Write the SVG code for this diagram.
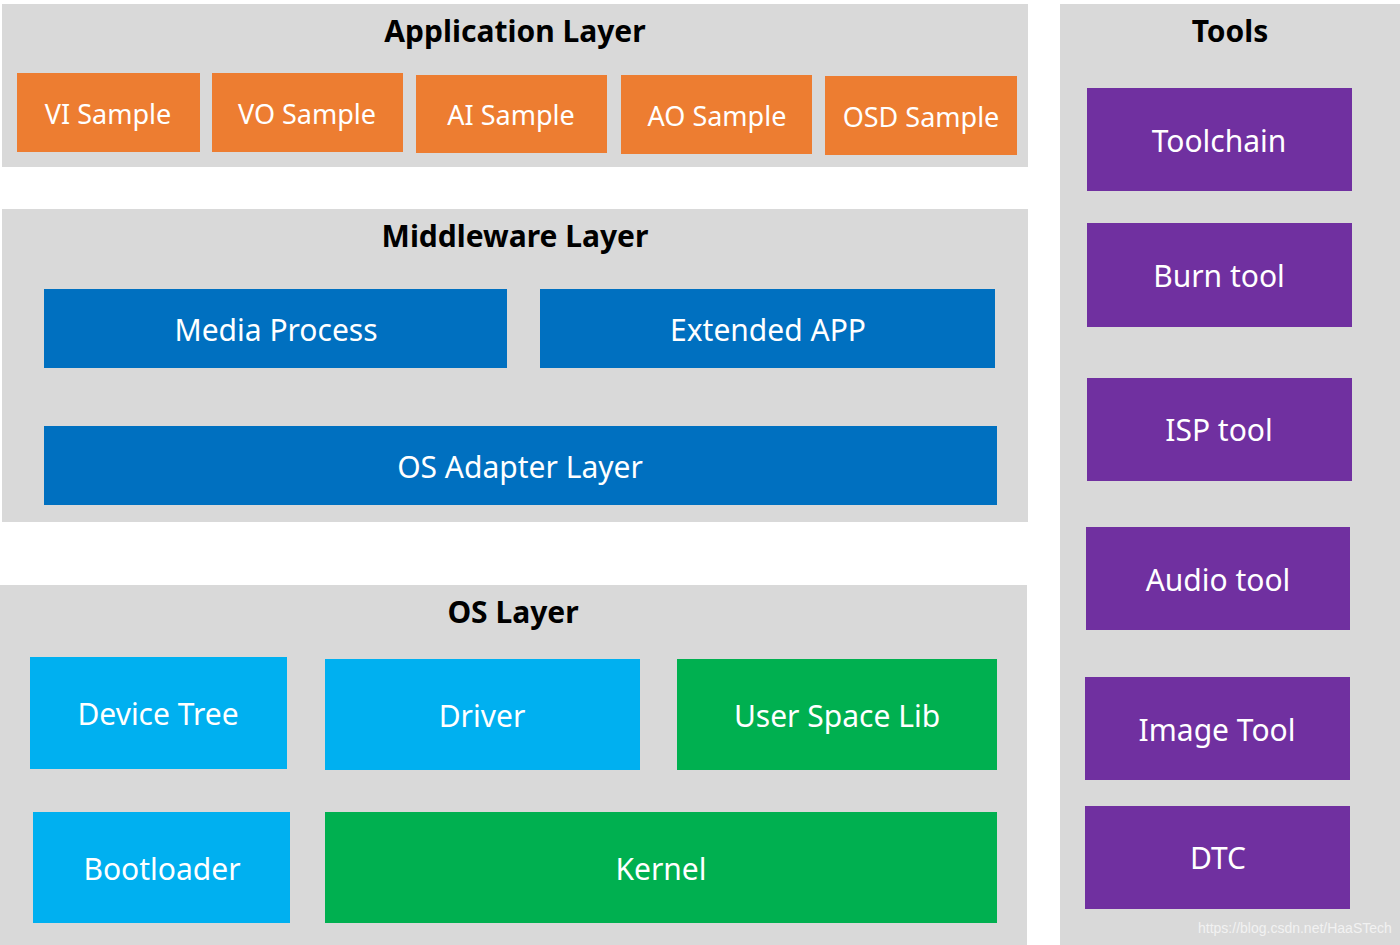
<svg xmlns="http://www.w3.org/2000/svg" width="1400" height="945" viewBox="0 0 1400 945">
<style>
.panel{fill:#d9d9d9}
.title{font-family:"Noto Sans","Open Sans",sans-serif;font-size:30px;font-weight:bold;fill:#000;text-anchor:middle}
.lbl{font-family:"Noto Sans","Open Sans",sans-serif;font-size:30px;fill:#fff;text-anchor:middle;dominant-baseline:central}
.sm{font-size:27px}
.org{fill:#ed7d31}
.blu{fill:#0070c0}
.lbl2{fill:#00b0f0}
.grn{fill:#00b050}
.pur{fill:#7030a0}
.wm{font-family:"Liberation Sans",Arial,sans-serif;font-size:14px;fill:#f2f2f2}
</style>
<rect width="1400" height="945" fill="#fff"/>
<g id="app-layer">
<rect class="panel" x="2" y="4" width="1026" height="163"/>
<text class="title" x="515" y="42">Application Layer</text>
</g>
<g id="vi"><rect class="org" x="17" y="73" width="183" height="79"/><text class="lbl sm" x="108" y="113">VI Sample</text></g>
<g id="vo"><rect class="org" x="212" y="73" width="191" height="79"/><text class="lbl sm" x="307" y="113">VO Sample</text></g>
<g id="ai"><rect class="org" x="416" y="75" width="191" height="78"/><text class="lbl sm" x="511" y="114">AI Sample</text></g>
<g id="ao"><rect class="org" x="621" y="75" width="191" height="79"/><text class="lbl sm" x="717" y="115">AO Sample</text></g>
<g id="osd"><rect class="org" x="825" y="76" width="192" height="79"/><text class="lbl sm" x="921" y="116">OSD Sample</text></g>
<g id="mw-layer">
<rect class="panel" x="2" y="209" width="1026" height="313"/>
<text class="title" x="515" y="247">Middleware Layer</text>
</g>
<g id="media"><rect class="blu" x="44" y="289" width="463" height="79"/><text class="lbl" x="276" y="329">Media Process</text></g>
<g id="ext"><rect class="blu" x="540" y="289" width="455" height="79"/><text class="lbl" x="768" y="329">Extended APP</text></g>
<g id="osal"><rect class="blu" x="44" y="426" width="953" height="79"/><text class="lbl" x="520" y="466">OS Adapter Layer</text></g>
<g id="os-layer">
<rect class="panel" x="0" y="585" width="1027" height="360"/>
<text class="title" x="513" y="623">OS Layer</text>
</g>
<g id="dt"><rect class="lbl2" x="30" y="657" width="257" height="112"/><text class="lbl" x="158" y="713">Device Tree</text></g>
<g id="drv"><rect class="lbl2" x="325" y="659" width="315" height="111"/><text class="lbl" x="482" y="715">Driver</text></g>
<g id="usl"><rect class="grn" x="677" y="659" width="320" height="111"/><text class="lbl" x="837" y="715">User Space Lib</text></g>
<g id="boot"><rect class="lbl2" x="33" y="812" width="257" height="111"/><text class="lbl" x="162" y="868">Bootloader</text></g>
<g id="kernel"><rect class="grn" x="325" y="812" width="672" height="111"/><text class="lbl" x="661" y="868">Kernel</text></g>
<g id="tools">
<rect class="panel" x="1060" y="4" width="340" height="941"/>
<text class="title" x="1230" y="42">Tools</text>
</g>
<g id="toolchain"><rect class="pur" x="1087" y="88" width="265" height="103"/><text class="lbl" x="1219" y="140">Toolchain</text></g>
<g id="burn"><rect class="pur" x="1087" y="223" width="265" height="104"/><text class="lbl" x="1219" y="275">Burn tool</text></g>
<g id="isp"><rect class="pur" x="1087" y="378" width="265" height="103"/><text class="lbl" x="1219" y="429">ISP tool</text></g>
<g id="audio"><rect class="pur" x="1086" y="527" width="264" height="103"/><text class="lbl" x="1218" y="579">Audio tool</text></g>
<g id="image"><rect class="pur" x="1085" y="677" width="265" height="103"/><text class="lbl" x="1217" y="729">Image Tool</text></g>
<g id="dtc"><rect class="pur" x="1085" y="806" width="265" height="103"/><text class="lbl" x="1218" y="857">DTC</text></g>
<g id="connectors"></g>
<text class="wm" x="1198" y="933">https://blog.csdn.net/HaaSTech</text>
</svg>
